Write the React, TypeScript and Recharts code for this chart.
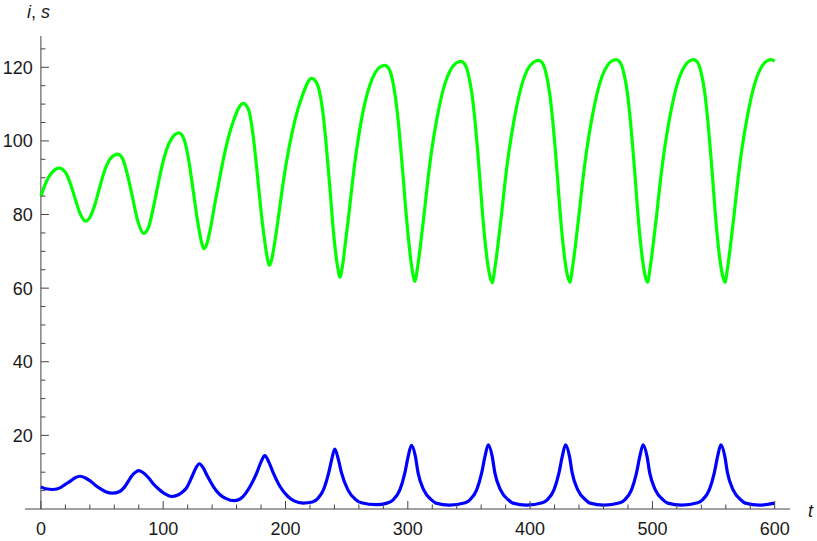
import { LineChart, Line, XAxis, YAxis, ReferenceLine } from "recharts";

const CHART_W = 817;
const CHART_H = 541;
const MARGIN = { top: 36, right: 27, bottom: 0, left: 0 };
const Y_AXIS_W = 25;
const X_AXIS_H = 32;

const X_MIN = -13;
const X_MAX = 612.5;
const Y_MAX = 128.5;

const AXIS = "#444";
const TEXT = "#1a1a1a";
const FONT = "'Liberation Sans', Arial, sans-serif";

// pixel shift from the left edge of the plot to t = 0, where the vertical axis sits
const PLOT_W = CHART_W - MARGIN.left - MARGIN.right - Y_AXIS_W;
const Y_AXIS_SHIFT = ((0 - X_MIN) / (X_MAX - X_MIN)) * PLOT_W;

const X_TICKS = [
  0, 20, 40, 60, 80, 100, 120, 140, 160, 180, 200, 220, 240, 260, 280, 300,
  320, 340, 360, 380, 400, 420, 440, 460, 480, 500, 520, 540, 560, 580, 600,
];
const Y_TICKS = [
  5, 10, 15, 20, 25, 30, 35, 40, 45, 50, 55, 60, 65, 70, 75, 80, 85, 90, 95,
  100, 105, 110, 115, 120, 125,
];

// s(t), green
const susceptible: [number, number][] = [
  [0, 85.0], [4, 88.6], [9, 91.4], [15, 92.6], [20, 91.5], [24, 88.5],
  [28, 84.3], [32, 80.3], [36.5, 78.2], [40, 79.2], [44, 82.5], [48, 87.3],
  [52, 91.8], [57, 95.3], [63, 96.4], [67, 95.0], [71, 90.5], [75, 84.5],
  [79, 78.5], [84, 74.9], [88, 76.5], [92, 82.0], [96, 88.5], [100, 94.5],
  [105, 99.5], [112.8, 102.2], [117, 100.5], [121, 94.5], [124.5, 86.5],
  [128, 78.5], [131, 73.0], [133.2, 70.7], [135.5, 71.8], [138.5, 76.0],
  [142, 82.5], [146.5, 90.5], [151.5, 98.5], [157, 105.0], [165.4, 110.2],
  [170, 108.3], [173.5, 101.5], [176.5, 92.5], [179.5, 82.5], [182.5, 74.0],
  [184.7, 69.0], [186.6, 66.2], [188.5, 67.5], [191, 72.0], [194.5, 80.0],
  [198, 88.5], [202.5, 97.5], [208, 106.0], [214, 112.5], [221.3, 117.0],
  [224.5, 116.3], [227.5, 113.8], [230.3, 108.5], [232.7, 101.0],
  [234.7, 93.5], [236.6, 86.0], [238.5, 78.0], [240.5, 71.0], [242.5, 66.0],
  [244.5, 63.0], [246.5, 65.8], [248.7, 71.5], [251.8, 80.0], [254.8, 89.0],
  [258.3, 98.0], [262.8, 107.0], [268.8, 115.0], [273.3, 118.5],
  [277, 120.0], [281.2, 120.5], [284.2, 119.8], [287, 117.2], [290, 111.5],
  [292.6, 104.0], [294.6, 96.5], [296.5, 89.0], [298.4, 81.0], [300.5, 73.5],
  [302.7, 67.0], [304.5, 63.2], [305.8, 61.8], [307.7, 65.0], [309.9, 70.4],
  [313.1, 79.4], [316.1, 88.5], [319.6, 97.6], [324.1, 106.6], [330.3, 115.5],
  [334.5, 119.0], [339, 121.0], [343.5, 121.6], [346.5, 120.9],
  [349.5, 118.1], [352.5, 112.6], [355, 105.3], [357, 97.8], [358.8, 90.3],
  [360.7, 81.9], [362.8, 73.9], [365, 67.4], [367, 63.4], [369.1, 61.5],
  [371.0, 65.0], [373.2, 70.4], [376.4, 79.4], [379.4, 88.5], [382.9, 97.6],
  [387.4, 106.6], [393.6, 115.7], [397.7, 119.3], [402.1, 121.2],
  [407.0, 121.9], [410, 121.2], [413, 118.4], [416, 112.9], [418.5, 105.5],
  [420.5, 98.0], [422.3, 90.5], [424.2, 82.0], [426.3, 74.0], [428.5, 67.5],
  [430.5, 63.5], [432.5, 61.6], [434.4, 65.0], [436.6, 70.4], [439.8, 79.4],
  [442.8, 88.5], [446.3, 97.6], [450.8, 106.6], [457.0, 115.7], [461.1, 119.3],
  [465.5, 121.4], [470.5, 122.1], [473.5, 121.4], [476.5, 118.6],
  [479.5, 113.1], [482, 105.5], [484, 98.0], [485.8, 90.5], [487.7, 82.0],
  [489.8, 74.0], [492, 67.5], [494, 63.5], [496.0, 61.6], [497.9, 65.0],
  [500.1, 70.4], [503.3, 79.4], [506.3, 88.5], [509.8, 97.6], [514.3, 106.6],
  [520.5, 115.7], [524.6, 119.3], [529, 121.4], [533.8, 122.1],
  [536.8, 121.4], [539.8, 118.6], [542.8, 113.1], [545.3, 105.5],
  [547.3, 98.0], [549.1, 90.5], [551, 82.0], [553.1, 74.0], [555.3, 67.5],
  [557.3, 63.5], [559.3, 61.6], [561.2, 65.0], [563.4, 70.4], [566.6, 79.4],
  [569.6, 88.5], [573.1, 97.6], [577.6, 106.6], [583.8, 115.7], [587.9, 119.3],
  [592.3, 121.4], [596.8, 122.1], [600, 121.7],
];

// i(t), blue
const infected: [number, number][] = [
  [0, 6.0], [4, 5.5], [10, 5.3], [16, 5.8], [20, 6.7], [23.7, 7.5],
  [28, 8.5], [32, 8.9], [36, 8.5], [40, 7.7], [44, 6.6], [48.2, 5.6],
  [53, 4.7], [58.3, 4.3], [64, 4.7], [68, 5.8], [71.4, 7.5], [74.1, 8.9],
  [77, 9.9], [80, 10.4], [84, 9.8], [88, 8.5], [92, 6.8], [96, 5.5],
  [101, 4.2], [106.8, 3.4], [112, 3.8], [116, 4.7], [119, 5.7],
  [123.7, 8.9], [126.5, 11.0], [129.5, 12.3], [132.5, 11.3], [136, 9.0],
  [141, 6.1], [146, 4.0], [151, 2.9], [158.5, 2.25], [165, 3.3], [171, 6.1],
  [176.5, 9.8], [180, 12.8], [183.1, 14.5], [186.3, 12.8], [190, 9.8],
  [195.5, 6.1], [202, 3.4], [207, 2.2], [214.4, 1.6], [222, 1.9],
  [226.5, 2.9], [231, 5.2], [235.3, 9.8], [237.8, 13.5], [240.3, 16.3],
  [243.2, 13.5], [245.8, 9.8], [251, 5.2], [257.5, 2.5], [262, 1.7],
  [274.4, 1.17], [283, 1.6], [288, 2.5], [293.5, 5.2], [297.6, 9.8],
  [300.3, 14.3], [303, 17.3], [306.2, 14.3], [308.4, 9.8], [313, 5.2],
  [319.3, 2.5], [323, 1.6], [334, 1.05], [347, 1.7], [350.8, 2.5],
  [356.3, 5.2], [360.4, 9.8], [363.1, 14.3], [365.8, 17.4], [369, 14.3],
  [371.2, 9.8], [375.8, 5.2], [382.1, 2.5], [386, 1.6], [397, 1.05],
  [410, 1.7], [414, 2.5], [419.5, 5.2], [423.6, 9.8], [426.3, 14.3],
  [429, 17.4], [432.2, 14.3], [434.4, 9.8], [439, 5.2], [445.3, 2.5],
  [449, 1.6], [460.5, 1.05], [473.5, 1.7], [477.4, 2.5], [482.9, 5.2],
  [487, 9.8], [489.7, 14.3], [492.4, 17.4], [495.6, 14.3], [497.8, 9.8],
  [502.4, 5.2], [508.7, 2.5], [512.5, 1.6], [524, 1.05], [537, 1.7],
  [541, 2.5], [546.5, 5.2], [550.6, 9.8], [553.3, 14.3], [556, 17.4],
  [559.2, 14.3], [561.4, 9.8], [566, 5.2], [572.3, 2.5], [576, 1.6],
  [587.5, 1.05], [600, 1.6],
];

const sData = susceptible.map(([t, v]) => ({ t, v }));
const iData = infected.map(([t, v]) => ({ t, v }));

function XTick({ x, y, payload }: any) {
  const v = payload.value as number;
  const major = v % 100 === 0;
  return (
    <g>
      <line x1={x} x2={x} y1={y} y2={y - (major ? 8 : 4.5)} stroke={AXIS} strokeWidth={1} />
      {major && (
        <text x={x} y={y + 26} textAnchor="middle" fill={TEXT} fontSize={18} fontFamily={FONT}>
          {v}
        </text>
      )}
    </g>
  );
}

function YTick({ x, y, payload }: any) {
  const v = payload.value as number;
  const major = v % 20 === 0;
  const ax = x + Y_AXIS_SHIFT;
  return (
    <g>
      <line x1={ax} x2={ax + (major ? 8 : 4.5)} y1={y} y2={y} stroke={AXIS} strokeWidth={1} />
      {major && (
        <text x={ax - 8} y={y} dy="0.36em" textAnchor="end" fill={TEXT} fontSize={18} fontFamily={FONT}>
          {v}
        </text>
      )}
    </g>
  );
}

export default function App() {
  return (
    <div style={{ position: "absolute", left: 0, top: 0, width: CHART_W, height: CHART_H, background: "#fff" }}>
      <LineChart width={CHART_W} height={CHART_H} margin={MARGIN}>
        <XAxis
          type="number"
          dataKey="t"
          domain={[X_MIN, X_MAX]}
          ticks={X_TICKS}
          interval={0}
          allowDataOverflow
          height={X_AXIS_H}
          tickSize={0}
          tickMargin={0}
          tickLine={false}
          axisLine={{ stroke: AXIS, strokeWidth: 1 }}
          tick={XTick}
        />
        <YAxis
          type="number"
          domain={[0, Y_MAX]}
          ticks={Y_TICKS}
          interval={0}
          allowDataOverflow
          width={Y_AXIS_W}
          tickSize={0}
          tickMargin={0}
          tickLine={false}
          axisLine={false}
          tick={YTick}
        />
        <ReferenceLine x={0} stroke={AXIS} strokeWidth={1} />
        <Line
          data={sData}
          dataKey="v"
          type="monotone"
          stroke="#00ff00"
          strokeWidth={3.2}
          dot={false}
          activeDot={false}
          isAnimationActive={false}
        />
        <Line
          data={iData}
          dataKey="v"
          type="monotone"
          stroke="#0000ff"
          strokeWidth={3.2}
          dot={false}
          activeDot={false}
          isAnimationActive={false}
        />
      </LineChart>
      <svg
        width={CHART_W}
        height={CHART_H}
        style={{ position: "absolute", left: 0, top: 0, pointerEvents: "none" }}
      >
        <text x={27} y={18} fill={TEXT} fontSize={18} fontFamily={FONT}>
          <tspan fontStyle="italic">i</tspan>
          <tspan>, </tspan>
          <tspan fontStyle="italic">s</tspan>
        </text>
        <text x={808} y={517} fill={TEXT} fontSize={18} fontFamily={FONT} fontStyle="italic">
          t
        </text>
      </svg>
    </div>
  );
}
